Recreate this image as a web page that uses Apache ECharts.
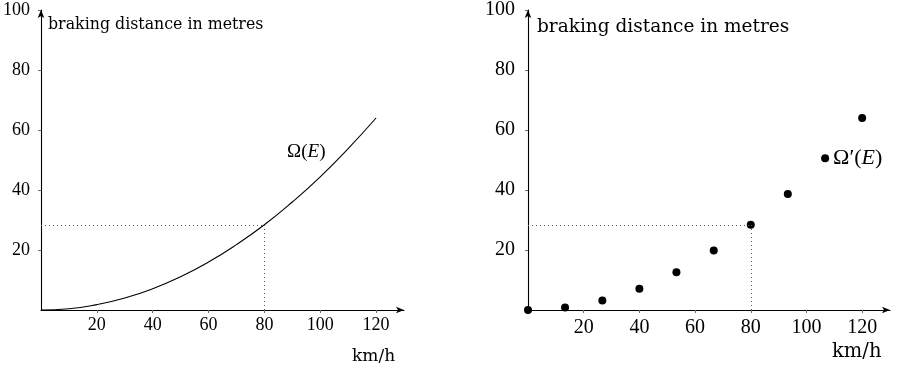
<!DOCTYPE html>
<html><head><meta charset="utf-8">
<script src="https://cdn.jsdelivr.net/npm/echarts@6/dist/echarts.min.js"></script>
<style>html,body{margin:0;padding:0;background:#fff}#c{width:899px;height:368px}</style>
</head><body><div id="c"></div>
<script>
// Left panel: continuous curve
const curveSpeeds = [0, 10, 20, 30, 40, 50, 60, 70, 80, 90, 100, 110, 120];
const curveDistances = [0, 0.4, 1.8, 4, 7.1, 11.1, 16, 21.8, 28.4, 36, 44.4, 53.8, 64];
// Right panel: discrete points
const pointSpeeds = [0, 13.3, 26.7, 40, 53.3, 66.7, 80, 93.3, 106.7, 120];
const pointDistances = [0, 0.8, 3.2, 7.1, 12.6, 19.8, 28.4, 38.7, 50.6, 64];
const xTicks = [20, 40, 60, 80, 100, 120];
const yTicks = [20, 40, 60, 80, 100];
const refSpeed = 80, refDistance = 28.4;
const leftLabelAnchor = [95, 52.7];
const rightLabelIndex = 8;
const yName = 'braking distance in metres';
const xName = 'km/h';

const NUM = '"Liberation Serif", "Times New Roman", serif';
const chart = echarts.init(document.getElementById('c'));

function xAxes(grid, fs, margin, inside) {
  return {
    type: 'value', gridIndex: grid, min: 0, max: 130,
    axisLine: inside ? {show:false} : {show:true, symbol:['none','arrow'], symbolSize:[5,8], lineStyle:{color:'#000', width:1.1}},
    axisTick: {show:true, inside: inside, length:3, customValues: xTicks, lineStyle:{color:'#666', width:0.8}},
    axisLabel: inside ? {show:false} : {show:true, customValues: xTicks, color:'#000', fontFamily:NUM, fontSize:fs, margin:margin},
    splitLine: {show:false}
  };
}
function yAxes(grid, fs, margin, inside) {
  return {
    type: 'value', gridIndex: grid, min: 0, max: 100,
    axisLine: inside ? {show:false} : {show:true, symbol:['none','arrow'], symbolSize:[5,8], lineStyle:{color:'#000', width:1.1}},
    axisTick: {show:true, inside: inside, length:3, customValues: yTicks, lineStyle:{color:'#666', width:0.8}},
    axisLabel: inside ? {show:false} : {show:true, customValues: yTicks, color:'#000', fontFamily:NUM, fontSize:fs, margin:margin},
    splitLine: {show:false}
  };
}
const dotted = {color:'#555', width:1, type:[1,3]};
function refLines() {
  return {
    silent: true, symbol: ['none','none'], label:{show:false}, lineStyle: dotted,
    data: [
      [{coord:[0, refDistance]}, {coord:[refSpeed, refDistance]}],
      [{coord:[refSpeed, 0]}, {coord:[refSpeed, refDistance]}]
    ]
  };
}
const rich = (fs) => ({
  n: {fontFamily: NUM, fontSize: fs, color:'#000'},
  e: {fontFamily: NUM, fontSize: fs, fontStyle:'italic', color:'#000'}
});

chart.setOption({
  animation: false,
  grid: [
    {left: 41, top: 10, width: 363, height: 300},
    {left: 528, top: 10, width: 362, height: 300}
  ],
  xAxis: [xAxes(0, 18, 6, false), xAxes(0, 18, 6, true), xAxes(1, 20, 8, false), xAxes(1, 20, 8, true)],
  yAxis: [yAxes(0, 18, 11, false), yAxes(0, 18, 11, true), yAxes(1, 20, 13, false), yAxes(1, 20, 13, true)],
  series: [
    {
      type: 'line', xAxisIndex: 0, yAxisIndex: 0, smooth: true, showSymbol: false,
      lineStyle: {color:'#000', width: 1.1},
      data: curveSpeeds.map((s, i) => [s, curveDistances[i]]),
      markLine: refLines(),
      markPoint: {
        symbol: 'circle', symbolSize: 0,
        data: [{coord: leftLabelAnchor, label: {show:true, position:'inside', formatter:'{n|Ω(}{e|E}{n|)}', rich: rich(19)}}]
      }
    },
    {
      type: 'scatter', xAxisIndex: 2, yAxisIndex: 2, symbolSize: 8,
      itemStyle: {color:'#000', opacity: 1},
      data: pointSpeeds.map((s, i) => i === rightLabelIndex
        ? {value:[s, pointDistances[i]], label:{show:true, position:'right', distance:4, formatter:'{n|Ω′(}{e|E}{n|)}', rich: rich(22)}}
        : [s, pointDistances[i]]),
      markLine: refLines()
    }
  ],
  graphic: [
    {type:'text', left: 48, top: 17, style:{text: yName, font: '15.8px "DejaVu Serif"', fill:'#000'}},
    {type:'text', left: 537, top: 18, style:{text: yName, font: '18.5px "DejaVu Serif"', fill:'#000'}},
    {type:'text', left: 352, top: 348, style:{text: xName, font: '17px "DejaVu Serif"', fill:'#000'}},
    {type:'text', left: 832, top: 342, style:{text: xName, font: '19.5px "DejaVu Serif"', fill:'#000'}}
  ]
});
</script></body></html>
